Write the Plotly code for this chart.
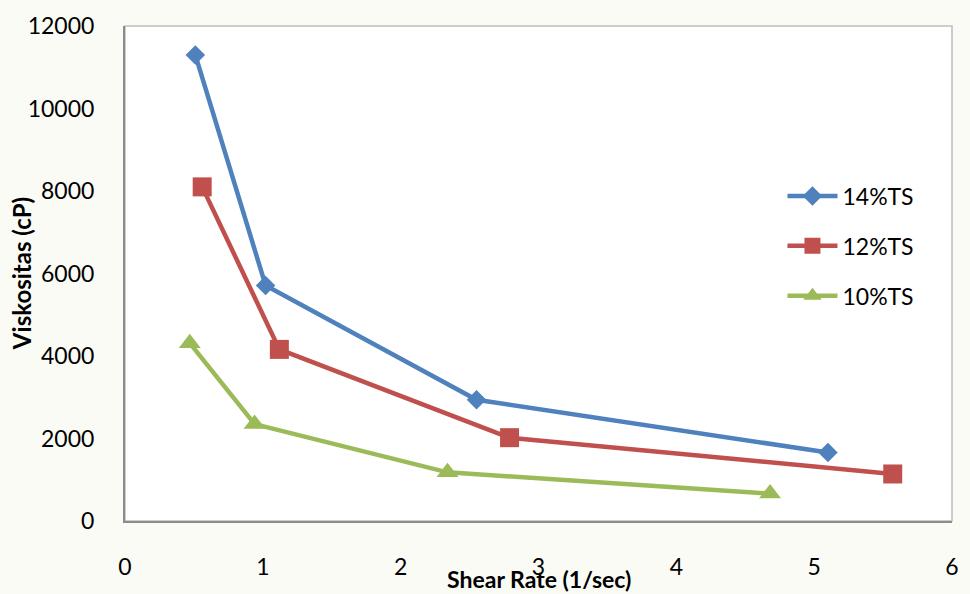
import plotly.graph_objects as go

# Shear rate (1/sec) and viscosity (cP) for each total-solids level
shear_14 = [0.51, 1.02, 2.55, 5.10]
visc_14 = [11300, 5710, 2940, 1660]

shear_12 = [0.56, 1.12, 2.79, 5.57]
visc_12 = [8100, 4160, 2020, 1140]

shear_10 = [0.47, 0.94, 2.34, 4.68]
visc_10 = [4310, 2350, 1180, 665]

series = [
    ("14%TS", shear_14, visc_14, "#4F81BD", "diamond", 15),
    ("12%TS", shear_12, visc_12, "#C0504D", "square", 19),
    ("10%TS", shear_10, visc_10, "#9BBB59", "triangle-up", 19),
]

x_ticks = [0, 1, 2, 3, 4, 5, 6]
y_ticks = [0, 2000, 4000, 6000, 8000, 10000, 12000]
y_tick_text = [str(v) for v in y_ticks]

FONT = "Lato, 'Open Sans', sans-serif"

fig = go.Figure()
for name, xs, ys, color, symbol, size in series:
    fig.add_trace(go.Scatter(
        x=xs, y=ys, name=name, mode="lines+markers",
        legendgroup=name,
        line=dict(color=color, width=4.5),
        marker=dict(symbol=symbol, size=size, color=color, line=dict(width=0)),
    ))

fig.update_layout(
    width=970, height=594,
    margin=dict(l=125, r=11, t=20, b=73),
    paper_bgcolor="#FBFBF5",
    plot_bgcolor="#FFFFFF",
    font=dict(family=FONT, size=23, color="#000000"),
    showlegend=True,
    legend=dict(
        x=0.795, y=0.70, xanchor="left", yanchor="top",
        bgcolor="rgba(0,0,0,0)", borderwidth=0,
        tracegroupgap=17, itemwidth=50,
        font=dict(family=FONT, size=23, color="#000000"),
    ),
    xaxis=dict(
        range=[0, 6], tickvals=x_ticks, showgrid=False, zeroline=False,
        showline=True, linecolor="#8C8C8C", linewidth=2,
        ticks="", ticklabelstandoff=24,
        tickfont=dict(family=FONT, size=23),
    ),
    yaxis=dict(
        range=[0, 12000], tickvals=y_ticks, ticktext=y_tick_text,
        showgrid=False, zeroline=False,
        showline=True, linecolor="#8C8C8C", linewidth=2,
        ticks="", ticklabelstandoff=24,
        tickfont=dict(family=FONT, size=23),
    ),
    shapes=[dict(
        type="rect", xref="paper", yref="paper", x0=0, x1=1, y0=0, y1=1,
        line=dict(color="#BDBDBD", width=1.5), layer="below",
    )],
    annotations=[
        dict(text="<b>Shear Rate (1/sec)</b>", xref="paper", yref="paper",
             x=0.5, y=-0.117, xanchor="center", yanchor="middle",
             showarrow=False, font=dict(family=FONT, size=23)),
        dict(text="<b>Viskositas (cP)</b>", xref="paper", yref="paper",
             x=-0.125, y=0.5, xanchor="center", yanchor="middle",
             textangle=-90, showarrow=False, font=dict(family=FONT, size=24)),
    ],
)

fig.write_html("out.html")
